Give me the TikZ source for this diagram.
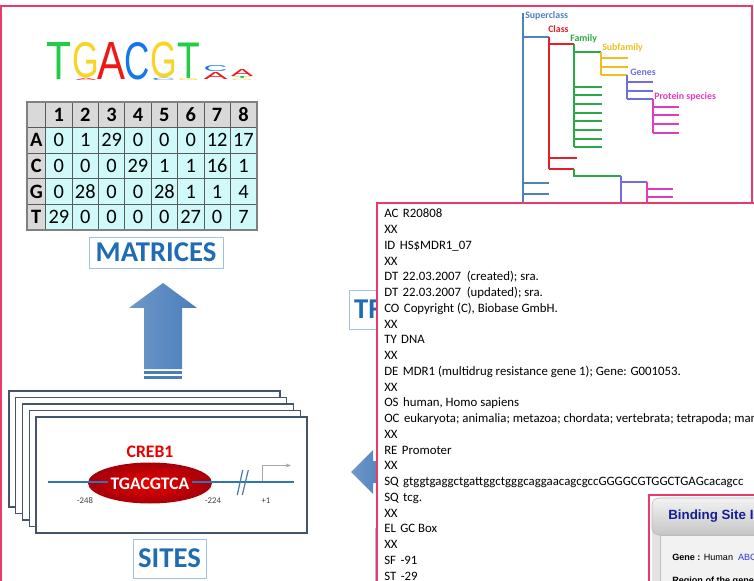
\documentclass[tikz,border=0pt]{standalone}
\usepackage{fontspec}
\setmainfont{Carlito}
\newfontfamily\arialfont{Liberation Sans}
\usetikzlibrary{arrows.meta, shapes.geometric}

\definecolor{framepink}{RGB}{236,58,104}
\definecolor{titleblue}{RGB}{31,108,180}
\definecolor{boxblue}{RGB}{157,195,230}
\definecolor{arrowblue}{RGB}{74,126,187}
\definecolor{cellgray}{RGB}{217,217,217}
\definecolor{cellcyan}{RGB}{208,250,250}
\definecolor{gridgray}{RGB}{90,90,90}
\definecolor{logoT}{RGB}{34,204,68}
\definecolor{logoG}{RGB}{247,212,38}
\definecolor{logoA}{RGB}{238,24,24}
\definecolor{logoC}{RGB}{20,120,236}
\definecolor{treeblue}{RGB}{79,129,189}
\definecolor{treered}{RGB}{230,30,40}
\definecolor{treegreen}{RGB}{40,170,70}
\definecolor{treeyellow}{RGB}{240,190,30}
\definecolor{treepurple}{RGB}{110,110,225}
\definecolor{treepink}{RGB}{225,60,190}
\definecolor{dnablue}{RGB}{46,117,182}
\definecolor{sitesline}{RGB}{68,84,106}
\definecolor{bsblue}{RGB}{20,30,150}
\definecolor{genelink}{RGB}{50,50,220}

\newcommand{\fld}{\hspace{0.35em}}

\begin{document}
\begin{tikzpicture}[x=0.75pt, y=-0.75pt,
    every node/.style={inner sep=0pt},
    titlebox/.style={draw=boxblue, fill=white, line width=0.6pt, text=titleblue,
      font=\bfseries\fontsize{21.5}{24}\selectfont},
    logoletter/.style={anchor=south, font=\arialfont},
    cellnum/.style={font=\fontsize{15.3}{16}\selectfont},
    cellhead/.style={font=\bfseries\fontsize{15.3}{16}\selectfont},
    reclines/.style={anchor=base west, font=\fontsize{9.6}{11}\selectfont},
    treelab/.style={anchor=west, font=\bfseries\fontsize{7.4}{8}\selectfont},
    treeline/.style={line width=1.1pt},
    poslab/.style={font=\fontsize{6.5}{7}\selectfont, text=darkgray}]
  \useasboundingbox (0,0) rectangle (754,581);
  \clip (0,0) rectangle (754,581);

  % frame
  \draw[framepink, line width=1.5pt] (1,600) -- (1,6) -- (752,6) -- (752,203);

  % logo
  \foreach \l/\c/\x/\y/\w/\h [count=\i] in {T/logoT/59.5/80/18.75/27.75, G/logoG/86/78.3/20/26.25,
      A/logoA/111/80/21/27.75, C/logoC/137.5/80/19/27.75, G/logoG/163.5/78.5/20/26.6,
      T/logoT/188.5/78.5/17/26.6, C/logoC/215.5/72/18/4.5, A/logoA/215.5/79.5/18/5.25,
      A/logoA/242/77/16.5/5.25, T/logoT/242/79/16.5/1.5, G/logoG/242/80.5/16.5/1.1,
      C/logoC/163.5/80.8/18/1.7, G/logoG/188.5/80.5/16/1.5, A/logoA/86/80.6/16/1.6}
    \node[logoletter, text=\c] (logo\i) at (\x,\y) {\resizebox{\w pt}{\h pt}{\l}};

  % matrix
  \fill[cellgray] (27,102) rectangle (257,230);
  \fill[cellcyan] (45.7,127.5) rectangle (257,230);
  \foreach \c in {0,...,8}
    \draw[gridgray, line width=0.5pt] ({45.7+26.37*\c},102) -- ({45.7+26.37*\c},230);
  \foreach \r in {0,...,4}
    \draw[gridgray, line width=0.5pt] (27,{127.5+25.6*\r}) -- (257,{127.5+25.6*\r});
  \draw[gray, line width=1.2pt] (27,102) rectangle (257,230);
  \foreach \c in {1,...,8}
    \node[cellhead] (col\c) at ({45.7+26.37*(\c-0.5)},115) {\c};
  \foreach \b/\vals [count=\r] in {A/{0,1,29,0,0,0,12,17}, C/{0,0,0,29,1,1,16,1},
      G/{0,28,0,0,28,1,1,4}, T/{29,0,0,0,0,27,0,7}} {
    \node[cellhead] (row\b) at (36.3,{127.5+25.6*(\r-0.5)}) {\b};
    \foreach \v [count=\c] in \vals
      \node[cellnum] (m\b\c) at ({45.7+26.37*(\c-0.5)},{127.5+25.6*(\r-0.5)}) {\v};
  }
  \node[titlebox, minimum width=100.5pt, minimum height=23.25pt] (matrices) at (156,252.5) {MATRICES};

  % up arrow
  \shade[left color=arrowblue!80!white, right color=arrowblue] (163,283) -- (197,308) -- (182,308)
    -- (182,369) -- (144,369) -- (144,308) -- (129,308) -- cycle;
  \fill[arrowblue] (144,371) rectangle (182,374);
  \fill[arrowblue] (144,376) rectangle (182,379);

  % sites
  \foreach \i in {0,...,4}
    \draw[sitesline, fill=white, line width=0.8pt] ({9+6.75*\i},{391+6.5*\i}) rectangle ++(271,116);
  \node[ellipse, minimum width=93pt, minimum height=30.75pt, shading=radial,
    inner color={rgb,255:red,235;green,0;blue,0}, outer color={rgb,255:red,165;green,0;blue,10}] (creb) at (150,483) {};
  \draw[dnablue, line width=2.2pt] (48,482) -- (108,482);
  \draw[dnablue, line width=2.2pt] (192,482) -- (294,482);
  \node[text=white, font=\bfseries\fontsize{13.2}{14}\selectfont] (siteseq) at (150,483.5) {TGACGTCA};
  \node[text={rgb,255:red,230;green,0;blue,0}, font=\bfseries\fontsize{13.2}{14}\selectfont] (crebname) at (150,452) {CREB1};
  \draw[dnablue!60!gray, line width=0.9pt] (237.3,495) -- (242.7,470);
  \draw[dnablue!60!gray, line width=0.9pt] (242.3,495) -- (248.3,470);
  \draw[gray!70, line width=0.6pt, -{Stealth[length=4pt, width=3pt]}] (262,481) -- (262,465.5) -- (291,465.5);
  \node[poslab] (p248) at (85,501) {-248};
  \node[poslab] (p224) at (213,501) {-224};
  \node[poslab] (p1) at (266,501) {+1};
  \node[titlebox, minimum width=54.75pt, minimum height=29.25pt] (sites) at (169.5,558.5) {SITES};

  % factors
  \node[titlebox, anchor=west, inner xsep=3.5pt, minimum height=29.25pt] (factors) at (349,309.5) {TF};
  \shade[left color=arrowblue!80!white, right color=arrowblue] (351,472) -- (373,450) -- (373,461)
    -- (390,461) -- (390,483) -- (373,483) -- (373,494) -- cycle;
  \draw[boxblue, fill=white, line width=0.6pt] (375,528) rectangle (420,600);

  % classification tree
  \begin{scope}[treeline]
    \draw[treeblue] (523,13) -- (523,203);
    \foreach \y in {37,183,194} \draw[treeblue] (523,\y) -- (549,\y);
    \draw[treered] (549,37) -- (549,169);
    \foreach \y/\x in {44/574, 158/577, 169/574} \draw[treered] (549,\y) -- (\x,\y);
    \draw[treegreen] (574,44) -- (574,147);
    \draw[treegreen] (574,52) -- (601,52);
    \foreach \y in {87,95,104,113,121,130,139,147} \draw[treegreen] (574,\y) -- (602,\y);
    \draw[treegreen] (574,169) -- (574,176) -- (621,176);
    \draw[treeyellow] (601,52) -- (601,75);
    \foreach \y/\x in {58/628, 67/628, 75/627} \draw[treeyellow] (601,\y) -- (\x,\y);
    \draw[treepurple] (627,75) -- (627,99);
    \foreach \y in {82,91,99} \draw[treepurple] (627,\y) -- (653,\y);
    \draw[treepurple] (621,176) -- (621,203);
    \draw[treepurple] (621,182) -- (647,182);
    \draw[treepink] (653,99) -- (653,133);
    \foreach \y in {107,115,124,133} \draw[treepink] (653,\y) -- (679,\y);
    \draw[treepink] (647,182) -- (647,203);
    \foreach \y in {189,197} \draw[treepink] (647,\y) -- (673,\y);
  \end{scope}
  \node[treelab, text=treeblue] (superclass) at (525,16) {Superclass};
  \node[treelab, text=treered] (class) at (548,29) {Class};
  \node[treelab, text=treegreen] (family) at (570,39) {Family};
  \node[treelab, text=treeyellow] (subfamily) at (602,48) {Subfamily};
  \node[treelab, text=treepurple] (genes) at (630,72) {Genes};
  \node[treelab, text=treepink] (species) at (654,97) {Protein species};

  % database record
  \draw[framepink, line width=1.5pt, fill=white] (377,203) rectangle (780,600);
  \foreach \t [count=\i] in {{AC\fld R20808}, {XX}, {ID\fld HS\$MDR1\_07}, {XX},
      {DT\fld 22.03.2007\ \ (created); sra.}, {DT\fld 22.03.2007\ \ (updated); sra.},
      {CO\fld Copyright (C), Biobase GmbH.}, {XX}, {TY\fld DNA}, {XX},
      {DE\fld MDR1 (multidrug resistance gene 1); Gene: G001053.}, {XX},
      {OS\fld human, Homo sapiens},
      {OC\fld eukaryota; animalia; metazoa; chordata; vertebrata; tetrapoda; mammalia; eutheria},
      {XX}, {RE\fld Promoter}, {XX},
      {SQ\fld gtggtgaggctgattggctgggcaggaacagcgccGGGGCGTGGCTGAGcacagcc}, {SQ\fld tcg.},
      {XX}, {EL\fld GC Box}, {XX}, {SF\fld -91}, {ST\fld -29}}
    \node[reclines] (rec\i) at (384,{218+15.74*(\i-1)}) {\t};

  % binding site page
  \draw[framepink, line width=1.5pt, fill=white] (649,495) rectangle (780,600);
  \fill[gray!22] (652,515) rectangle (780,600);
  \draw[gray!50, fill=gray!10] (660,535) rectangle (780,600);
  \shadedraw[top color=gray!10, bottom color=gray!45, draw=gray!55, rounded corners=5pt] (652,498) rectangle (790,535);
  \node[anchor=west, text=bsblue, font=\arialfont\bfseries\fontsize{10}{12}\selectfont] (bstitle) at (668,516.5) {Binding Site Information};
  \node[anchor=west, font=\arialfont\fontsize{6.8}{8}\selectfont] (bsgene) at (672,557) {\textbf{Gene :} Human\ \ \textcolor{genelink}{ABCB1}};
  \node[anchor=west, font=\arialfont\bfseries\fontsize{6.8}{8}\selectfont] (bsregion) at (672,581) {Region of the gene :};
\end{tikzpicture}
\end{document}
